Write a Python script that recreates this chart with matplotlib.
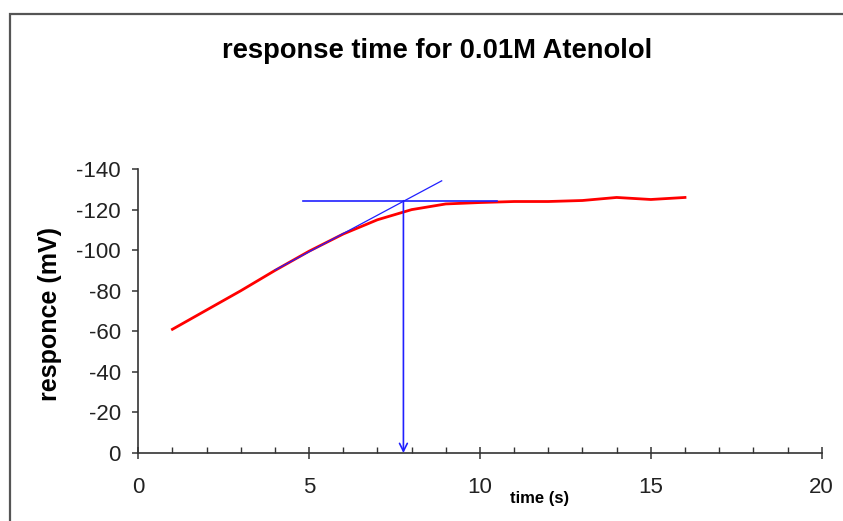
import matplotlib.pyplot as plt
from matplotlib.patches import Rectangle

plt.rcParams["font.family"] = ["Liberation Sans", "DejaVu Sans"]
plt.rcParams["axes.unicode_minus"] = False

# measured electrode response (mV) vs time (s)
time_s = [1, 2, 3, 4, 5, 6, 7, 8, 9, 10, 11, 12, 13, 14, 15, 16]
response_mv = [-61, -70.5, -80, -90, -99.5, -108, -115, -120, -122.8, -123.5,
               -124, -124, -124.5, -126, -125, -126]

# graphical construction of the response time
tangent_t = [4.0, 8.88]
tangent_mv = [-90.2, -134.2]
plateau_t = [4.81, 10.49]
plateau_mv = -124.4
response_time = 7.76

yticks = [0, -20, -40, -60, -80, -100, -120, -140]

fig = plt.figure(figsize=(8.43, 5.21), dpi=100)
ax = fig.add_axes([0.164, 0.1305, 0.8107, 0.545])

ax.plot(time_s, response_mv, color="#ff0000", lw=2.0, zorder=3)
ax.plot(tangent_t, tangent_mv, color="#2020ff", lw=0.9, zorder=4)
ax.plot(plateau_t, [plateau_mv, plateau_mv], color="#2020ff", lw=1.2, zorder=4)
ax.annotate("", xy=(response_time, 0), xytext=(response_time, plateau_mv),
            arrowprops=dict(arrowstyle="->", color="#2020ff", lw=1.2,
                            mutation_scale=14, shrinkA=0, shrinkB=0),
            zorder=4)

ax.set_xlim(0, 20)
ax.set_ylim(0, -140)
ax.set_xticks([0, 5, 10, 15, 20])
ax.set_xticks(range(0, 21), minor=True)
ax.set_yticks(yticks)

for side in ("top", "right"):
    ax.spines[side].set_visible(False)
for side in ("left", "bottom"):
    ax.spines[side].set_color("#333333")
    ax.spines[side].set_linewidth(1.2)

ax.tick_params(axis="x", which="major", direction="inout", length=8.5,
               width=1.1, color="#333333", labelsize=16, pad=13)
ax.tick_params(axis="x", which="minor", direction="in", length=4.3,
               width=1.0, color="#333333")
ax.tick_params(axis="y", direction="out", length=4.5, width=1.1,
               color="#333333", labelsize=16, pad=8)
ax.tick_params(labelcolor="#222222")

fig.text(0.518, 0.902, "response time for 0.01M Atenolol", ha="center",
         va="center", fontsize=19.7, fontweight="bold")
fig.text(0.059, 0.398, "responce (mV)", ha="center", va="center",
         rotation=90, fontsize=18, fontweight="bold")
fig.text(0.64, 0.044, "time (s)", ha="center", va="center",
         fontsize=12, fontweight="bold")

fig.patches.append(Rectangle((10 / 843, -0.1), 1.2, 1.1 + (521 - 14) / 521 - 1.0,
                             transform=fig.transFigure, fill=False,
                             edgecolor="#555555", lw=1.6))

fig.savefig("out.png", dpi=100)
